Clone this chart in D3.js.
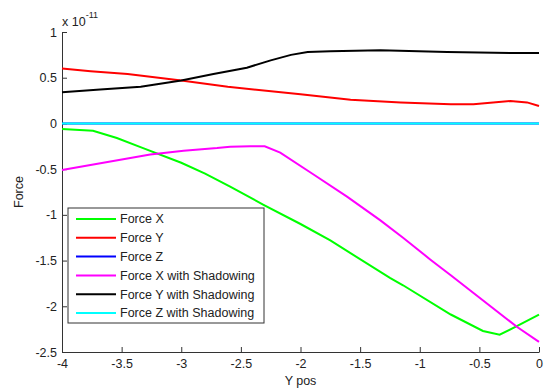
<!DOCTYPE html>
<html>
<head>
<meta charset="utf-8">
<script src="https://cdn.jsdelivr.net/npm/d3@7"></script>
<style>
  html, body { margin: 0; padding: 0; background: #fff; }
  svg text { font-family: Arial, "Liberation Sans", sans-serif; fill: #222; }
</style>
</head>
<body>
<div id="chart"></div>
<script>
// values are in units of 1e-11
const forceX = [[-4.0, -0.06], [-3.74, -0.08], [-3.54, -0.16], [-3.32, -0.27], [-3.0, -0.43], [-2.8, -0.55],
  [-2.59, -0.69], [-2.31, -0.89], [-2.0, -1.1], [-1.75, -1.28], [-1.25, -1.69], [-1.14, -1.77],
  [-0.74, -2.09], [-0.47, -2.27], [-0.33, -2.31], [-0.19, -2.22], [0, -2.09]];
const forceY = [[-4.0, 0.6], [-3.76, 0.57], [-3.45, 0.54], [-3.0, 0.47], [-2.61, 0.4], [-2.0, 0.32],
  [-1.58, 0.26], [-1.16, 0.23], [-0.74, 0.21], [-0.55, 0.21], [-0.24, 0.245], [-0.1, 0.23], [0, 0.19]];
const forceZ = [[-4.0, 0], [0, 0]];
const forceXShadow = [[-4.0, -0.51], [-3.26, -0.34], [-2.98, -0.3], [-2.7, -0.27], [-2.59, -0.255],
  [-2.42, -0.25], [-2.3, -0.25], [-2.17, -0.32], [-1.9, -0.55], [-1.61, -0.8], [-1.33, -1.06],
  [-1.14, -1.25], [-0.91, -1.49], [-0.74, -1.66], [-0.18, -2.23], [0, -2.39]];
const forceYShadow = [[-4.0, 0.34], [-3.68, 0.37], [-3.34, 0.4], [-3.0, 0.47], [-2.73, 0.54],
  [-2.45, 0.61], [-2.25, 0.69], [-2.08, 0.75], [-1.94, 0.78], [-1.75, 0.79], [-1.33, 0.8],
  [-0.77, 0.78], [-0.21, 0.77], [0, 0.77]];
const forceZShadow = [[-4.0, 0], [0, 0]];

const seriesNames = ["Force X", "Force Y", "Force Z", "Force X with Shadowing", "Force Y with Shadowing", "Force Z with Shadowing"];
const seriesData = [forceX, forceY, forceZ, forceXShadow, forceYShadow, forceZShadow];
const seriesColors = ["#00ff00", "#ff0000", "#0000ff", "#ff00ff", "#000000", "#00ffff"];

const xTicks = [-4, -3.5, -3, -2.5, -2, -1.5, -1, -0.5, 0];
const yTicks = [1, 0.5, 0, -0.5, -1, -1.5, -2, -2.5];

const W = 545, H = 388;
const margin = { top: 32, right: 6, bottom: 36, left: 62 };
const width = W - margin.left - margin.right;
const height = H - margin.top - margin.bottom;

const svg = d3.select("#chart").append("svg")
  .attr("width", W)
  .attr("height", H);

const g = svg.append("g")
  .attr("transform", `translate(${margin.left},${margin.top})`);

const x = d3.scaleLinear().domain([-4, 0]).range([0, width]);
const y = d3.scaleLinear().domain([-2.5, 1]).range([height, 0]);

const fmt = d => String(d);

const xAxis = g.append("g")
  .attr("transform", `translate(0,${height})`)
  .call(d3.axisBottom(x).tickValues(xTicks).tickFormat(fmt).tickSizeInner(-5).tickSizeOuter(0).tickPadding(7));
const yAxis = g.append("g")
  .call(d3.axisLeft(y).tickValues(yTicks).tickFormat(fmt).tickSizeInner(-5).tickSizeOuter(0).tickPadding(5));

[xAxis, yAxis].forEach(a => {
  a.selectAll("text").style("font-size", "12.5px").attr("fill", "#222");
  a.select(".domain").attr("stroke", "#333");
  a.selectAll(".tick line").attr("stroke", "#333");
});

const line = d3.line()
  .x(d => x(d[0]))
  .y(d => y(d[1]));

seriesData.forEach((data, i) => {
  g.append("path")
    .datum(data)
    .attr("fill", "none")
    .attr("stroke", seriesColors[i])
    .attr("stroke-width", 2)
    .attr("d", line);
});

// exponent label
const expo = svg.append("text")
  .attr("x", margin.left)
  .attr("y", 26)
  .style("font-size", "12.5px");
expo.append("tspan").text("x 10");
expo.append("tspan").attr("dy", -8).style("font-size", "9px").text("-11");

// axis labels
svg.append("text")
  .attr("x", margin.left + width / 2)
  .attr("y", 385)
  .attr("text-anchor", "middle")
  .style("font-size", "12.5px")
  .text("Y pos");

svg.append("text")
  .attr("transform", `translate(23,${margin.top + height / 2}) rotate(-90)`)
  .attr("text-anchor", "middle")
  .style("font-size", "12.5px")
  .text("Force");

// legend
const legend = svg.append("g").attr("transform", "translate(68,208)");
legend.append("rect")
  .attr("width", 196)
  .attr("height", 115)
  .attr("fill", "#fff")
  .attr("stroke", "#333")
  .attr("stroke-width", 1);

seriesNames.forEach((name, i) => {
  const rowY = 11 + i * 18.8;
  legend.append("line")
    .attr("x1", 8).attr("x2", 48)
    .attr("y1", rowY).attr("y2", rowY)
    .attr("stroke", seriesColors[i])
    .attr("stroke-width", 2);
  legend.append("text")
    .attr("x", 52)
    .attr("y", rowY)
    .attr("dy", "0.35em")
    .style("font-size", "12.5px")
    .text(name);
});
</script>
</body>
</html>
